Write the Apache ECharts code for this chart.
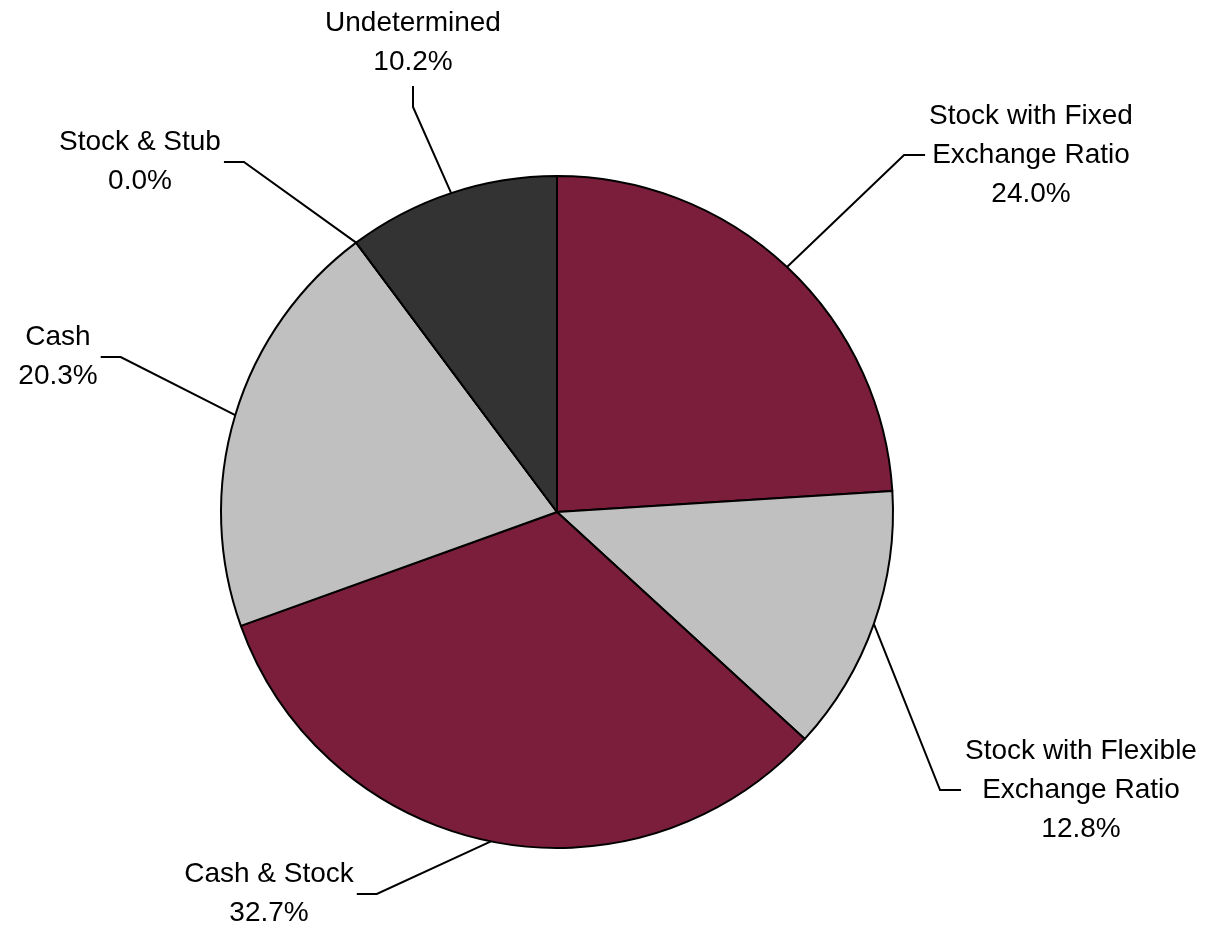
<!DOCTYPE html>
<html>
<head>
<meta charset="utf-8">
<script src="https://cdn.jsdelivr.net/npm/echarts@6/dist/echarts.min.js"></script>
<style>
  html, body { margin: 0; padding: 0; background: #fff; }
  #main { width: 1213px; height: 926px; }
</style>
</head>
<body>
<div id="main"></div>
<script>
// 数据
var names = ['Stock with Fixed\nExchange Ratio', 'Stock with Flexible\nExchange Ratio', 'Cash & Stock', 'Cash', 'Stock & Stub', 'Undetermined'];
var values = [24.0, 12.8, 32.7, 20.3, 0.0, 10.2];
var colors = ['#7A1E3C', '#C0C0C0', '#7A1E3C', '#C0C0C0', '#C0C0C0', '#333333'];

// 标签位置 (block centre) + leader side
var labelPos = [
  { x: 1031, y: 155, side: 'left' },
  { x: 1081, y: 790, side: 'left' },
  { x: 269, y: 894, side: 'right' },
  { x: 58, y: 357, side: 'right' },
  { x: 140, y: 162, side: 'right' },
  { x: 413, y: 43, side: 'bottom' }
];

var myPie = echarts.init(document.getElementById('main'));

var pieData = names.map(function (n, i) {
  return { name: n, value: values[i], itemStyle: { color: colors[i] } };
});

myPie.setOption({
  animation: false,
  series: [{
    type: 'pie',
    center: [557, 512],
    radius: 336,
    startAngle: 90,
    clockwise: true,
    avoidLabelOverlap: false,
    emphasis: { disabled: true },
    itemStyle: {
      borderColor: '#000',
      borderWidth: 2
    },
    label: {
      show: true,
      position: 'outside',
      color: '#000',
      fontFamily: 'Liberation Sans, Arial, sans-serif',
      fontSize: 28,
      lineHeight: 39,
      align: 'center',
      formatter: function (p) {
        return p.name + '\n' + p.percent.toFixed(1) + '%';
      }
    },
    labelLine: {
      show: true,
      length: 10,
      length2: 10,
      lineStyle: { color: '#000', width: 2 }
    },
    labelLayout: function (params) {
      var p = labelPos[params.dataIndex];
      var w = params.labelRect.width;
      var h = params.labelRect.height;
      var start = params.labelLinePoints[0];
      var end, elbow;
      if (p.side === 'left') {
        end = [p.x - w / 2 - 4, p.y];
        elbow = [end[0] - 21, p.y];
      } else if (p.side === 'right') {
        end = [p.x + w / 2 + 3, p.y];
        elbow = [end[0] + 20, p.y];
      } else {
        end = [p.x, p.y + h / 2 + 4];
        elbow = [p.x, end[1] + 21];
      }
      return {
        x: p.x,
        y: p.y,
        align: 'center',
        verticalAlign: 'middle',
        labelLinePoints: [start, elbow, end]
      };
    },
    data: pieData
  }]
});
</script>
</body>
</html>
